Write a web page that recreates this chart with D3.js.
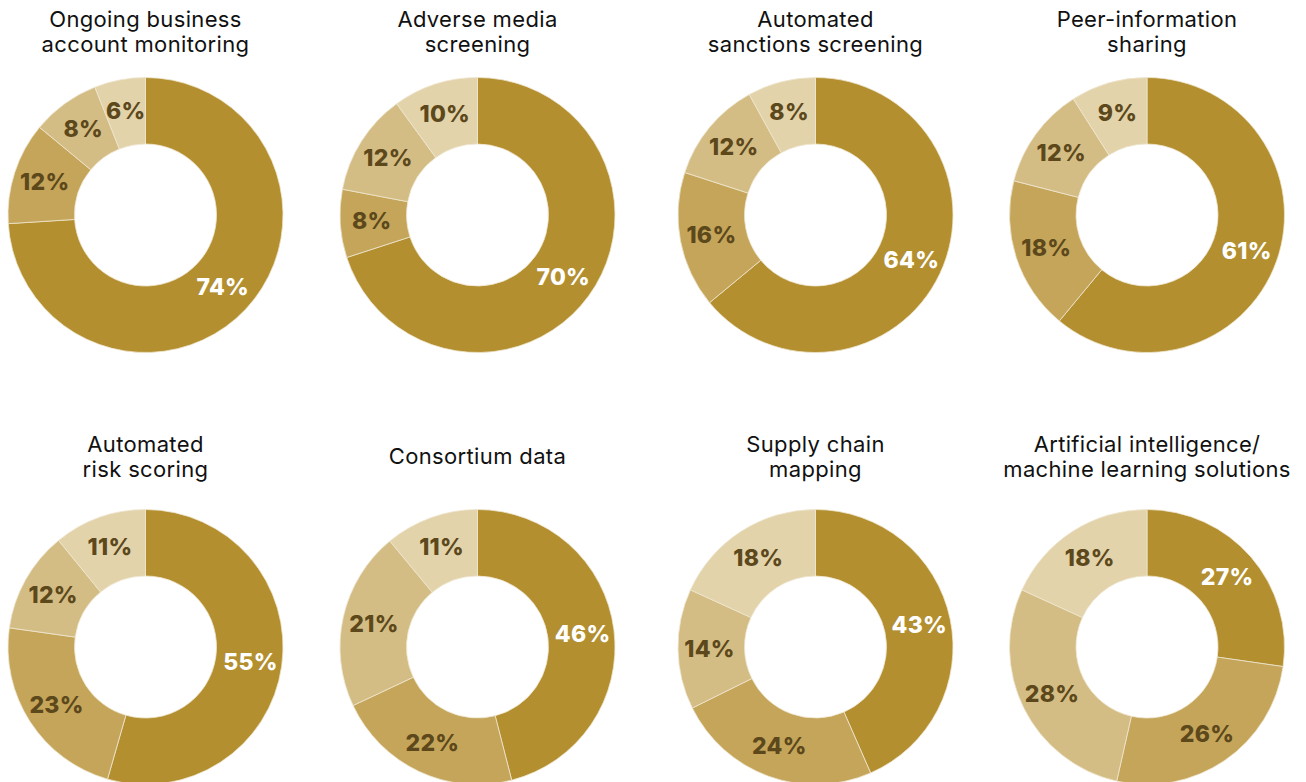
<!DOCTYPE html>
<html>
<head>
<meta charset="utf-8">
<script src="https://cdn.jsdelivr.net/npm/d3@7"></script>
<style>
  html, body { margin: 0; padding: 0; background: #ffffff; }
  svg { display: block; }
</style>
</head>
<body>
<svg id="chart" width="1306" height="782"></svg>
<script>
// Solutions surveyed, one donut each (title lines)
const titles = [
  ["Ongoing business", "account monitoring"],
  ["Adverse media", "screening"],
  ["Automated", "sanctions screening"],
  ["Peer-information", "sharing"],
  ["Automated", "risk scoring"],
  ["Consortium data"],
  ["Supply chain", "mapping"],
  ["Artificial intelligence/", "machine learning solutions"]
];

// Response groups, in clockwise order from 12 o'clock
const groups = ["group1", "group2", "group3", "group4"];

// Percent shares per solution, same order as groups
const group1 = [74, 70, 64, 61, 55, 46, 43, 27];
const group2 = [12,  8, 16, 18, 23, 22, 24, 26];
const group3 = [ 8, 12, 12, 12, 12, 21, 14, 28];
const group4 = [ 6, 10,  8,  9, 11, 11, 18, 18];

const series = [group1, group2, group3, group4];
const colors = ["#b38f30", "#c4a55a", "#d4bd84", "#e2d3ab"];
const labelColors = ["#ffffff", "#5c481b", "#5c481b", "#5c481b"];

const svg = d3.select("#chart");
const titleFont = "Inter, 'Open Sans', sans-serif";
const labelFont = "Inter, Lato, sans-serif";

const cols = 4;
const xScale = d3.scaleOrdinal().domain(d3.range(cols)).range([145.5, 477.5, 815.5, 1147]);
const rowCenter = [215, 647];
const rowTitle = [19, 444];
const outerR = 137.5, innerR = 71;

const pie = d3.pie().sort(null).value(d => d.value);
const arc = d3.arc().innerRadius(innerR).outerRadius(outerR);
const labelArc = d3.arc().innerRadius(75).outerRadius(137);

const color = d3.scaleOrdinal().domain(groups).range(colors);
const labelColor = d3.scaleOrdinal().domain(groups).range(labelColors);

titles.forEach((t, i) => {
  const col = i % cols, row = Math.floor(i / cols);
  const cx = xScale(col), cy = rowCenter[row];
  const data = groups.map((g, k) => ({ key: g, value: series[k][i] }));

  const g = svg.append("g").attr("transform", `translate(${cx},${cy})`);

  g.selectAll("path")
    .data(pie(data))
    .join("path")
    .attr("d", arc)
    .attr("fill", d => color(d.data.key))
    .attr("stroke", "#efe6cf")
    .attr("stroke-width", 0.8);

  g.selectAll("text.val")
    .data(pie(data))
    .join("text")
    .attr("class", "val")
    .attr("transform", d => `translate(${labelArc.centroid(d)})`)
    .attr("text-anchor", "middle")
    .attr("dy", "0.34em")
    .attr("fill", d => labelColor(d.data.key))
    .style("font-family", labelFont)
    .style("font-weight", 800)
    .style("font-size", "23px")
    .style("letter-spacing", "0.3px")
    .text(d => d.data.value + "%");

  // title, one or two lines centred above the donut
  const lines = t;
  const lineH = 25;
  const y0 = lines.length === 1 ? rowTitle[row] + lineH / 2 : rowTitle[row];
  const title = svg.append("text")
    .attr("text-anchor", "middle")
    .attr("fill", "#111111")
    .style("font-family", titleFont)
    .style("font-size", "22px")
    .style("letter-spacing", "0.35px");
  lines.forEach((ln, j) => {
    title.append("tspan")
      .attr("x", cx)
      .attr("y", y0 + j * lineH)
      .attr("dy", "0.36em")
      .text(ln);
  });
});
</script>
</body>
</html>
